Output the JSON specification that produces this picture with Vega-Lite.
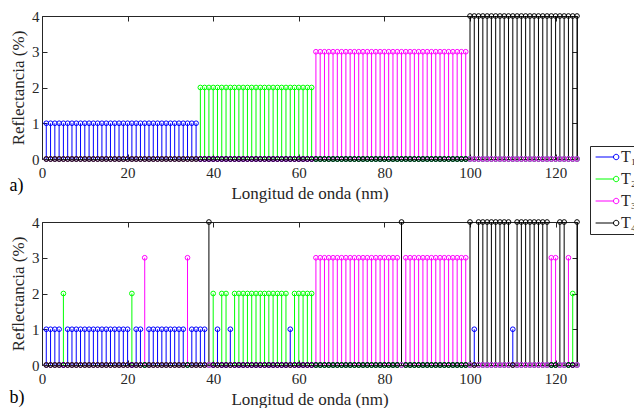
{
  "$schema": "https://vega.github.io/schema/vega-lite/v6.json",
  "padding": {"left": 9, "top": 8, "right": 0, "bottom": 0},
  "spacing": 12,
  "config": {
    "font": "Liberation Serif, Times New Roman, serif",
    "view": {"stroke": "#262626", "strokeWidth": 1},
    "axis": {"labelFont": "Liberation Serif, Times New Roman, serif", "labelFontSize": 15, "labelColor": "#262626", "titleFont": "Liberation Serif, Times New Roman, serif", "titleFontSize": 17, "titleFontWeight": "normal", "titleColor": "#262626", "tickColor": "#262626", "tickSize": -5, "grid": false, "domain": false, "labelFlush": false},
    "axisX": {"labelPadding": 11, "titlePadding": 5},
    "axisY": {"labelPadding": 8, "titlePadding": 4},
    "title": {"font": "Liberation Serif, Times New Roman, serif", "fontSize": 18, "fontWeight": "normal", "color": "#000000"}
  },
  "datasets": {
    "a": [
{"x":1,"T1":1,"T2":0,"T3":0,"T4":0},{"x":2,"T1":1,"T2":0,"T3":0,"T4":0},{"x":3,"T1":1,"T2":0,"T3":0,"T4":0},{"x":4,"T1":1,"T2":0,"T3":0,"T4":0},{"x":5,"T1":1,"T2":0,"T3":0,"T4":0},
{"x":6,"T1":1,"T2":0,"T3":0,"T4":0},{"x":7,"T1":1,"T2":0,"T3":0,"T4":0},{"x":8,"T1":1,"T2":0,"T3":0,"T4":0},{"x":9,"T1":1,"T2":0,"T3":0,"T4":0},{"x":10,"T1":1,"T2":0,"T3":0,"T4":0},
{"x":11,"T1":1,"T2":0,"T3":0,"T4":0},{"x":12,"T1":1,"T2":0,"T3":0,"T4":0},{"x":13,"T1":1,"T2":0,"T3":0,"T4":0},{"x":14,"T1":1,"T2":0,"T3":0,"T4":0},{"x":15,"T1":1,"T2":0,"T3":0,"T4":0},
{"x":16,"T1":1,"T2":0,"T3":0,"T4":0},{"x":17,"T1":1,"T2":0,"T3":0,"T4":0},{"x":18,"T1":1,"T2":0,"T3":0,"T4":0},{"x":19,"T1":1,"T2":0,"T3":0,"T4":0},{"x":20,"T1":1,"T2":0,"T3":0,"T4":0},
{"x":21,"T1":1,"T2":0,"T3":0,"T4":0},{"x":22,"T1":1,"T2":0,"T3":0,"T4":0},{"x":23,"T1":1,"T2":0,"T3":0,"T4":0},{"x":24,"T1":1,"T2":0,"T3":0,"T4":0},{"x":25,"T1":1,"T2":0,"T3":0,"T4":0},
{"x":26,"T1":1,"T2":0,"T3":0,"T4":0},{"x":27,"T1":1,"T2":0,"T3":0,"T4":0},{"x":28,"T1":1,"T2":0,"T3":0,"T4":0},{"x":29,"T1":1,"T2":0,"T3":0,"T4":0},{"x":30,"T1":1,"T2":0,"T3":0,"T4":0},
{"x":31,"T1":1,"T2":0,"T3":0,"T4":0},{"x":32,"T1":1,"T2":0,"T3":0,"T4":0},{"x":33,"T1":1,"T2":0,"T3":0,"T4":0},{"x":34,"T1":1,"T2":0,"T3":0,"T4":0},{"x":35,"T1":1,"T2":0,"T3":0,"T4":0},
{"x":36,"T1":1,"T2":0,"T3":0,"T4":0},{"x":37,"T1":0,"T2":2,"T3":0,"T4":0},{"x":38,"T1":0,"T2":2,"T3":0,"T4":0},{"x":39,"T1":0,"T2":2,"T3":0,"T4":0},{"x":40,"T1":0,"T2":2,"T3":0,"T4":0},
{"x":41,"T1":0,"T2":2,"T3":0,"T4":0},{"x":42,"T1":0,"T2":2,"T3":0,"T4":0},{"x":43,"T1":0,"T2":2,"T3":0,"T4":0},{"x":44,"T1":0,"T2":2,"T3":0,"T4":0},{"x":45,"T1":0,"T2":2,"T3":0,"T4":0},
{"x":46,"T1":0,"T2":2,"T3":0,"T4":0},{"x":47,"T1":0,"T2":2,"T3":0,"T4":0},{"x":48,"T1":0,"T2":2,"T3":0,"T4":0},{"x":49,"T1":0,"T2":2,"T3":0,"T4":0},{"x":50,"T1":0,"T2":2,"T3":0,"T4":0},
{"x":51,"T1":0,"T2":2,"T3":0,"T4":0},{"x":52,"T1":0,"T2":2,"T3":0,"T4":0},{"x":53,"T1":0,"T2":2,"T3":0,"T4":0},{"x":54,"T1":0,"T2":2,"T3":0,"T4":0},{"x":55,"T1":0,"T2":2,"T3":0,"T4":0},
{"x":56,"T1":0,"T2":2,"T3":0,"T4":0},{"x":57,"T1":0,"T2":2,"T3":0,"T4":0},{"x":58,"T1":0,"T2":2,"T3":0,"T4":0},{"x":59,"T1":0,"T2":2,"T3":0,"T4":0},{"x":60,"T1":0,"T2":2,"T3":0,"T4":0},
{"x":61,"T1":0,"T2":2,"T3":0,"T4":0},{"x":62,"T1":0,"T2":2,"T3":0,"T4":0},{"x":63,"T1":0,"T2":2,"T3":0,"T4":0},{"x":64,"T1":0,"T2":0,"T3":3,"T4":0},{"x":65,"T1":0,"T2":0,"T3":3,"T4":0},
{"x":66,"T1":0,"T2":0,"T3":3,"T4":0},{"x":67,"T1":0,"T2":0,"T3":3,"T4":0},{"x":68,"T1":0,"T2":0,"T3":3,"T4":0},{"x":69,"T1":0,"T2":0,"T3":3,"T4":0},{"x":70,"T1":0,"T2":0,"T3":3,"T4":0},
{"x":71,"T1":0,"T2":0,"T3":3,"T4":0},{"x":72,"T1":0,"T2":0,"T3":3,"T4":0},{"x":73,"T1":0,"T2":0,"T3":3,"T4":0},{"x":74,"T1":0,"T2":0,"T3":3,"T4":0},{"x":75,"T1":0,"T2":0,"T3":3,"T4":0},
{"x":76,"T1":0,"T2":0,"T3":3,"T4":0},{"x":77,"T1":0,"T2":0,"T3":3,"T4":0},{"x":78,"T1":0,"T2":0,"T3":3,"T4":0},{"x":79,"T1":0,"T2":0,"T3":3,"T4":0},{"x":80,"T1":0,"T2":0,"T3":3,"T4":0},
{"x":81,"T1":0,"T2":0,"T3":3,"T4":0},{"x":82,"T1":0,"T2":0,"T3":3,"T4":0},{"x":83,"T1":0,"T2":0,"T3":3,"T4":0},{"x":84,"T1":0,"T2":0,"T3":3,"T4":0},{"x":85,"T1":0,"T2":0,"T3":3,"T4":0},
{"x":86,"T1":0,"T2":0,"T3":3,"T4":0},{"x":87,"T1":0,"T2":0,"T3":3,"T4":0},{"x":88,"T1":0,"T2":0,"T3":3,"T4":0},{"x":89,"T1":0,"T2":0,"T3":3,"T4":0},{"x":90,"T1":0,"T2":0,"T3":3,"T4":0},
{"x":91,"T1":0,"T2":0,"T3":3,"T4":0},{"x":92,"T1":0,"T2":0,"T3":3,"T4":0},{"x":93,"T1":0,"T2":0,"T3":3,"T4":0},{"x":94,"T1":0,"T2":0,"T3":3,"T4":0},{"x":95,"T1":0,"T2":0,"T3":3,"T4":0},
{"x":96,"T1":0,"T2":0,"T3":3,"T4":0},{"x":97,"T1":0,"T2":0,"T3":3,"T4":0},{"x":98,"T1":0,"T2":0,"T3":3,"T4":0},{"x":99,"T1":0,"T2":0,"T3":3,"T4":0},{"x":100,"T1":0,"T2":0,"T3":0,"T4":4},
{"x":101,"T1":0,"T2":0,"T3":0,"T4":4},{"x":102,"T1":0,"T2":0,"T3":0,"T4":4},{"x":103,"T1":0,"T2":0,"T3":0,"T4":4},{"x":104,"T1":0,"T2":0,"T3":0,"T4":4},{"x":105,"T1":0,"T2":0,"T3":0,"T4":4},
{"x":106,"T1":0,"T2":0,"T3":0,"T4":4},{"x":107,"T1":0,"T2":0,"T3":0,"T4":4},{"x":108,"T1":0,"T2":0,"T3":0,"T4":4},{"x":109,"T1":0,"T2":0,"T3":0,"T4":4},{"x":110,"T1":0,"T2":0,"T3":0,"T4":4},
{"x":111,"T1":0,"T2":0,"T3":0,"T4":4},{"x":112,"T1":0,"T2":0,"T3":0,"T4":4},{"x":113,"T1":0,"T2":0,"T3":0,"T4":4},{"x":114,"T1":0,"T2":0,"T3":0,"T4":4},{"x":115,"T1":0,"T2":0,"T3":0,"T4":4},
{"x":116,"T1":0,"T2":0,"T3":0,"T4":4},{"x":117,"T1":0,"T2":0,"T3":0,"T4":4},{"x":118,"T1":0,"T2":0,"T3":0,"T4":4},{"x":119,"T1":0,"T2":0,"T3":0,"T4":4},{"x":120,"T1":0,"T2":0,"T3":0,"T4":4},
{"x":121,"T1":0,"T2":0,"T3":0,"T4":4},{"x":122,"T1":0,"T2":0,"T3":0,"T4":4},{"x":123,"T1":0,"T2":0,"T3":0,"T4":4},{"x":124,"T1":0,"T2":0,"T3":0,"T4":4},{"x":125,"T1":0,"T2":0,"T3":0,"T4":4}
    ],
    "b": [
{"x":1,"T1":1,"T2":0,"T3":0,"T4":0},{"x":2,"T1":1,"T2":0,"T3":0,"T4":0},{"x":3,"T1":1,"T2":0,"T3":0,"T4":0},{"x":4,"T1":1,"T2":0,"T3":0,"T4":0},{"x":5,"T1":0,"T2":2,"T3":0,"T4":0},
{"x":6,"T1":1,"T2":0,"T3":0,"T4":0},{"x":7,"T1":1,"T2":0,"T3":0,"T4":0},{"x":8,"T1":1,"T2":0,"T3":0,"T4":0},{"x":9,"T1":1,"T2":0,"T3":0,"T4":0},{"x":10,"T1":1,"T2":0,"T3":0,"T4":0},
{"x":11,"T1":1,"T2":0,"T3":0,"T4":0},{"x":12,"T1":1,"T2":0,"T3":0,"T4":0},{"x":13,"T1":1,"T2":0,"T3":0,"T4":0},{"x":14,"T1":1,"T2":0,"T3":0,"T4":0},{"x":15,"T1":1,"T2":0,"T3":0,"T4":0},
{"x":16,"T1":1,"T2":0,"T3":0,"T4":0},{"x":17,"T1":1,"T2":0,"T3":0,"T4":0},{"x":18,"T1":1,"T2":0,"T3":0,"T4":0},{"x":19,"T1":1,"T2":0,"T3":0,"T4":0},{"x":20,"T1":1,"T2":0,"T3":0,"T4":0},
{"x":21,"T1":0,"T2":2,"T3":0,"T4":0},{"x":22,"T1":1,"T2":0,"T3":0,"T4":0},{"x":23,"T1":1,"T2":0,"T3":0,"T4":0},{"x":24,"T1":0,"T2":0,"T3":3,"T4":0},{"x":25,"T1":1,"T2":0,"T3":0,"T4":0},
{"x":26,"T1":1,"T2":0,"T3":0,"T4":0},{"x":27,"T1":1,"T2":0,"T3":0,"T4":0},{"x":28,"T1":1,"T2":0,"T3":0,"T4":0},{"x":29,"T1":1,"T2":0,"T3":0,"T4":0},{"x":30,"T1":1,"T2":0,"T3":0,"T4":0},
{"x":31,"T1":1,"T2":0,"T3":0,"T4":0},{"x":32,"T1":1,"T2":0,"T3":0,"T4":0},{"x":33,"T1":1,"T2":0,"T3":0,"T4":0},{"x":34,"T1":0,"T2":0,"T3":3,"T4":0},{"x":35,"T1":1,"T2":0,"T3":0,"T4":0},
{"x":36,"T1":1,"T2":0,"T3":0,"T4":0},{"x":37,"T1":1,"T2":0,"T3":0,"T4":0},{"x":38,"T1":1,"T2":0,"T3":0,"T4":0},{"x":39,"T1":0,"T2":0,"T3":0,"T4":4},{"x":40,"T1":0,"T2":2,"T3":0,"T4":0},
{"x":41,"T1":1,"T2":0,"T3":0,"T4":0},{"x":42,"T1":0,"T2":2,"T3":0,"T4":0},{"x":43,"T1":0,"T2":2,"T3":0,"T4":0},{"x":44,"T1":1,"T2":0,"T3":0,"T4":0},{"x":45,"T1":0,"T2":2,"T3":0,"T4":0},
{"x":46,"T1":0,"T2":2,"T3":0,"T4":0},{"x":47,"T1":0,"T2":2,"T3":0,"T4":0},{"x":48,"T1":0,"T2":2,"T3":0,"T4":0},{"x":49,"T1":0,"T2":2,"T3":0,"T4":0},{"x":50,"T1":0,"T2":2,"T3":0,"T4":0},
{"x":51,"T1":0,"T2":2,"T3":0,"T4":0},{"x":52,"T1":0,"T2":2,"T3":0,"T4":0},{"x":53,"T1":0,"T2":2,"T3":0,"T4":0},{"x":54,"T1":0,"T2":2,"T3":0,"T4":0},{"x":55,"T1":0,"T2":2,"T3":0,"T4":0},
{"x":56,"T1":0,"T2":2,"T3":0,"T4":0},{"x":57,"T1":0,"T2":2,"T3":0,"T4":0},{"x":58,"T1":1,"T2":0,"T3":0,"T4":0},{"x":59,"T1":0,"T2":2,"T3":0,"T4":0},{"x":60,"T1":0,"T2":2,"T3":0,"T4":0},
{"x":61,"T1":0,"T2":2,"T3":0,"T4":0},{"x":62,"T1":0,"T2":2,"T3":0,"T4":0},{"x":63,"T1":0,"T2":2,"T3":0,"T4":0},{"x":64,"T1":0,"T2":0,"T3":3,"T4":0},{"x":65,"T1":0,"T2":0,"T3":3,"T4":0},
{"x":66,"T1":0,"T2":0,"T3":3,"T4":0},{"x":67,"T1":0,"T2":0,"T3":3,"T4":0},{"x":68,"T1":0,"T2":0,"T3":3,"T4":0},{"x":69,"T1":0,"T2":0,"T3":3,"T4":0},{"x":70,"T1":0,"T2":0,"T3":3,"T4":0},
{"x":71,"T1":0,"T2":0,"T3":3,"T4":0},{"x":72,"T1":0,"T2":0,"T3":3,"T4":0},{"x":73,"T1":0,"T2":0,"T3":3,"T4":0},{"x":74,"T1":0,"T2":0,"T3":3,"T4":0},{"x":75,"T1":0,"T2":0,"T3":3,"T4":0},
{"x":76,"T1":0,"T2":0,"T3":3,"T4":0},{"x":77,"T1":0,"T2":0,"T3":3,"T4":0},{"x":78,"T1":0,"T2":0,"T3":3,"T4":0},{"x":79,"T1":0,"T2":0,"T3":3,"T4":0},{"x":80,"T1":0,"T2":0,"T3":3,"T4":0},
{"x":81,"T1":0,"T2":0,"T3":3,"T4":0},{"x":82,"T1":0,"T2":0,"T3":3,"T4":0},{"x":83,"T1":0,"T2":0,"T3":3,"T4":0},{"x":84,"T1":0,"T2":0,"T3":0,"T4":4},{"x":85,"T1":0,"T2":0,"T3":3,"T4":0},
{"x":86,"T1":0,"T2":0,"T3":3,"T4":0},{"x":87,"T1":0,"T2":0,"T3":3,"T4":0},{"x":88,"T1":0,"T2":0,"T3":3,"T4":0},{"x":89,"T1":0,"T2":0,"T3":3,"T4":0},{"x":90,"T1":0,"T2":0,"T3":3,"T4":0},
{"x":91,"T1":0,"T2":0,"T3":3,"T4":0},{"x":92,"T1":0,"T2":0,"T3":3,"T4":0},{"x":93,"T1":0,"T2":0,"T3":3,"T4":0},{"x":94,"T1":0,"T2":0,"T3":3,"T4":0},{"x":95,"T1":0,"T2":0,"T3":3,"T4":0},
{"x":96,"T1":0,"T2":0,"T3":3,"T4":0},{"x":97,"T1":0,"T2":0,"T3":3,"T4":0},{"x":98,"T1":0,"T2":0,"T3":3,"T4":0},{"x":99,"T1":0,"T2":0,"T3":3,"T4":0},{"x":100,"T1":0,"T2":0,"T3":0,"T4":4},
{"x":101,"T1":1,"T2":0,"T3":0,"T4":0},{"x":102,"T1":0,"T2":0,"T3":0,"T4":4},{"x":103,"T1":0,"T2":0,"T3":0,"T4":4},{"x":104,"T1":0,"T2":0,"T3":0,"T4":4},{"x":105,"T1":0,"T2":0,"T3":0,"T4":4},
{"x":106,"T1":0,"T2":0,"T3":0,"T4":4},{"x":107,"T1":0,"T2":0,"T3":0,"T4":4},{"x":108,"T1":0,"T2":0,"T3":0,"T4":4},{"x":109,"T1":0,"T2":0,"T3":0,"T4":4},{"x":110,"T1":1,"T2":0,"T3":0,"T4":0},
{"x":111,"T1":0,"T2":0,"T3":0,"T4":4},{"x":112,"T1":0,"T2":0,"T3":0,"T4":4},{"x":113,"T1":0,"T2":0,"T3":0,"T4":4},{"x":114,"T1":0,"T2":0,"T3":0,"T4":4},{"x":115,"T1":0,"T2":0,"T3":0,"T4":4},
{"x":116,"T1":0,"T2":0,"T3":0,"T4":4},{"x":117,"T1":0,"T2":0,"T3":0,"T4":4},{"x":118,"T1":0,"T2":0,"T3":0,"T4":4},{"x":119,"T1":0,"T2":0,"T3":3,"T4":0},{"x":120,"T1":0,"T2":0,"T3":3,"T4":0},
{"x":121,"T1":0,"T2":0,"T3":0,"T4":4},{"x":122,"T1":0,"T2":0,"T3":0,"T4":4},{"x":123,"T1":0,"T2":0,"T3":3,"T4":0},{"x":124,"T1":0,"T2":2,"T3":0,"T4":0},{"x":125,"T1":0,"T2":0,"T3":0,"T4":4}
    ]
  },
  "vconcat": [
    {
      "data": {"name": "a"},
      "transform": [{"fold": ["T1", "T2", "T3", "T4"], "as": ["serie", "v"]}],
      "width": 535,
      "height": 143,
      "title": {"text": "a)", "orient": "bottom", "anchor": "start", "frame": "bounds", "offset": -24},
      "layer": [
        {
          "mark": {"type": "rule", "strokeWidth": 1},
          "encoding": {
            "x": {"field": "x", "type": "quantitative", "scale": {"domain": [0, 125], "nice": false}, "axis": {"orient": "bottom", "values": [0, 20, 40, 60, 80, 100, 120], "title": "Longitud de onda (nm)"}},
            "y": {"field": "v", "type": "quantitative", "scale": {"domain": [0, 4], "nice": false}, "axis": {"orient": "left", "values": [0, 1, 2, 3, 4], "title": "Reflectancia (%)"}},
            "y2": {"datum": 0},
            "color": {"field": "serie", "type": "nominal", "scale": {"domain": ["T1", "T2", "T3", "T4"], "range": ["#0000ff", "#00ff00", "#ff00ff", "#000000"]},
              "legend": {"orient": "none", "legendX": 548, "legendY": 130, "title": null, "direction": "vertical", "strokeColor": "#262626", "fillColor": "#ffffff", "padding": 3,
                "symbolType": "M-0.9,0L2.08,0M2.98,0A0.45,0.45,0,1,1,2.08,0A0.45,0.45,0,1,1,2.98,0", "symbolSize": 144, "symbolStrokeWidth": 1, "symbolFillColor": "transparent",
                "labelFont": "Liberation Serif, Times New Roman, serif", "labelFontSize": 16, "labelColor": "#262626", "labelOffset": 12, "rowPadding": 6,
                "labelExpr": "datum.label == 'T1' ? 'T₁' : datum.label == 'T2' ? 'T₂' : datum.label == 'T3' ? 'T₃' : 'T₄'"}},
            "order": {"field": "serie"}
          }
        },
        {
          "mark": {"type": "point", "shape": "circle", "filled": false, "size": 22, "strokeWidth": 1, "opacity": 1},
          "encoding": {
            "x": {"field": "x", "type": "quantitative", "axis": null},
            "y": {"field": "v", "type": "quantitative", "axis": null},
            "color": {"field": "serie", "type": "nominal"},
            "order": {"field": "serie"}
          }
        },
        {
          "mark": {"type": "point", "opacity": 0},
          "encoding": {
            "x": {"field": "x", "type": "quantitative", "axis": {"orient": "top", "values": [0, 20, 40, 60, 80, 100, 120], "labels": false, "title": null}},
            "y": {"field": "v", "type": "quantitative", "axis": {"orient": "right", "values": [0, 1, 2, 3, 4], "labels": false, "title": null}}
          }
        }
      ],
      "resolve": {"axis": {"x": "independent", "y": "independent"}}
    },
    {
      "data": {"name": "b"},
      "transform": [{"fold": ["T1", "T2", "T3", "T4"], "as": ["serie", "v"]}],
      "width": 535,
      "height": 143,
      "title": {"text": "b)", "orient": "bottom", "anchor": "start", "frame": "bounds", "offset": -18},
      "layer": [
        {
          "mark": {"type": "rule", "strokeWidth": 1},
          "encoding": {
            "x": {"field": "x", "type": "quantitative", "scale": {"domain": [0, 125], "nice": false}, "axis": {"orient": "bottom", "values": [0, 20, 40, 60, 80, 100, 120], "title": "Longitud de onda (nm)"}},
            "y": {"field": "v", "type": "quantitative", "scale": {"domain": [0, 4], "nice": false}, "axis": {"orient": "left", "values": [0, 1, 2, 3, 4], "title": "Reflectancia (%)"}},
            "y2": {"datum": 0},
            "color": {"field": "serie", "type": "nominal"},
            "order": {"field": "serie"}
          }
        },
        {
          "mark": {"type": "point", "shape": "circle", "filled": false, "size": 22, "strokeWidth": 1, "opacity": 1},
          "encoding": {
            "x": {"field": "x", "type": "quantitative", "axis": null},
            "y": {"field": "v", "type": "quantitative", "axis": null},
            "color": {"field": "serie", "type": "nominal"},
            "order": {"field": "serie"}
          }
        },
        {
          "mark": {"type": "point", "opacity": 0},
          "encoding": {
            "x": {"field": "x", "type": "quantitative", "axis": {"orient": "top", "values": [0, 20, 40, 60, 80, 100, 120], "labels": false, "title": null}},
            "y": {"field": "v", "type": "quantitative", "axis": {"orient": "right", "values": [0, 1, 2, 3, 4], "labels": false, "title": null}}
          }
        }
      ],
      "resolve": {"axis": {"x": "independent", "y": "independent"}}
    }
  ]
}
